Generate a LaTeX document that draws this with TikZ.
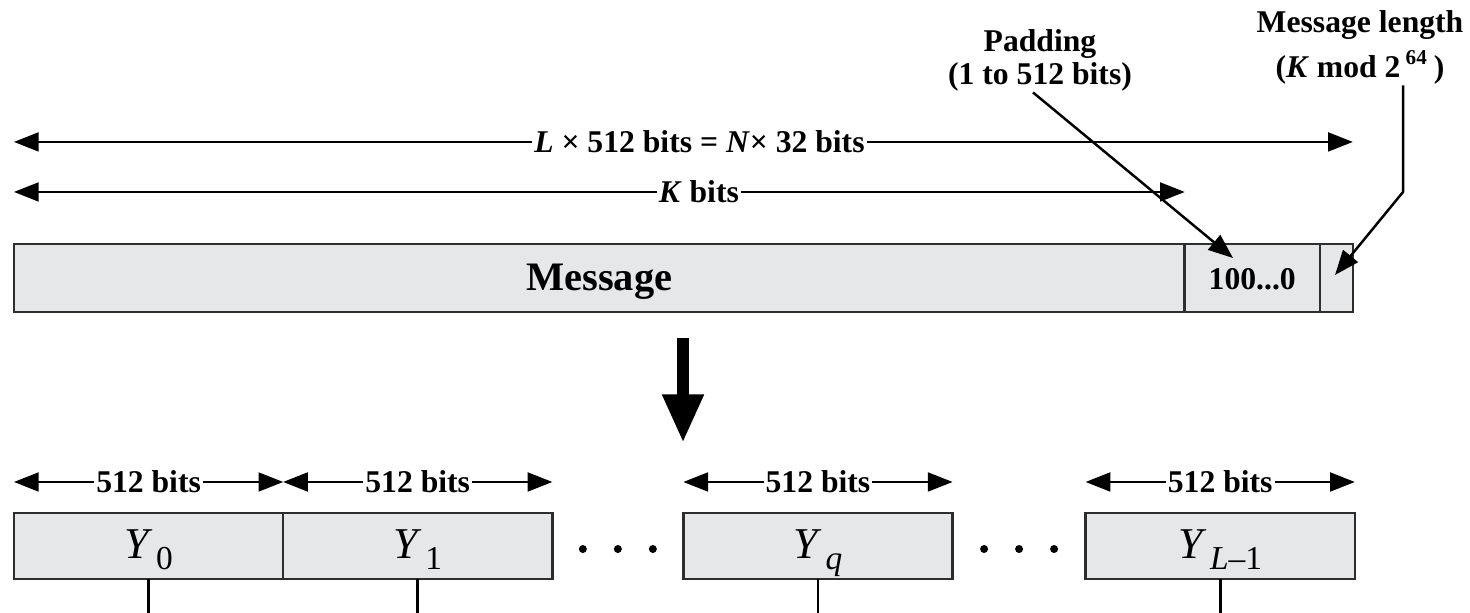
\documentclass[tikz,border=0pt]{standalone}
\usepackage{fontspec}
\setmainfont{Liberation Serif}
\usepackage{tikz}
\usetikzlibrary{positioning,calc,arrows.meta}
\definecolor{blockGray}{RGB}{230,231,233}
\definecolor{edgeGray}{RGB}{45,45,45}
\newcommand{\blocklabel}[1]{\textit{Y}\kern1pt\raisebox{-0.25em}{\fontsize{9.5}{9.5}\selectfont #1}}

\begin{document}
\begin{tikzpicture}[x=0.01cm,y=-0.01cm,
        >={Triangle[length=7pt,width=5.4pt]},
        block/.style={draw=edgeGray,fill=blockGray,line width=0.7pt,outer sep=0pt,inner sep=0pt,
                      minimum width=2.69cm,minimum height=0.66cm,text height=0.3cm,text depth=0.06cm,
                      font=\fontsize{12.5}{14}\selectfont},
        dimline/.style={<->,line width=0.5pt},
        dimlabel/.style={fill=white,inner sep=0.6pt,font=\fontsize{9}{11}\selectfont\bfseries},
        callout/.style={->,line width=0.7pt},
        toplabel/.style={anchor=base,inner sep=0pt,font=\fontsize{9}{10}\selectfont\bfseries}
    ]
        \useasboundingbox (0,0) rectangle (1470,613);

        \node[block,anchor=north west,minimum width=11.70cm,minimum height=0.68cm,
              text height=0.27cm,text depth=0.03cm,
              font=\fontsize{11.5}{13}\selectfont\bfseries] (msg) at (14,244) {Message};
        \node[block,right=0pt of msg,minimum width=1.35cm,minimum height=0.68cm,
              text height=0.22cm,text depth=0cm,
              font=\fontsize{9}{10}\selectfont\bfseries] (pad) {100...0};
        \node[block,right=0pt of pad,minimum width=0.33cm,minimum height=0.68cm] (len) {};

        \draw[dimline] ([yshift=1.02cm]msg.north west) --
            node[dimlabel,pos=0.512] {\textit{L} × 512 bits = \textit{N}× 32 bits} ([yshift=1.02cm]len.north east);
        \draw[dimline] ([yshift=0.52cm]msg.north west) --
            node[dimlabel,pos=0.585] {\textit{K} bits} ([yshift=0.52cm]msg.north east);

        \node[toplabel] (padTitle) at (1040,52) {Padding};
        \node[toplabel] (padRange) at (1040,85) {(1 to 512 bits)};
        \node[toplabel] (lenTitle) at (1360,33) {Message length};
        \node[toplabel] (lenRange) at (1360,78) {(\textit{K} mod 2\,\textsuperscript{64}\,)};

        \coordinate (padTip) at (1233,258);
        \coordinate (lenBend) at (1403,192);
        \coordinate (lenTip) at (1335,275);
        \draw[callout] ([xshift=-0.07cm]padRange.south) -- (padTip);
        \draw[callout] ([xshift=0.43cm]lenRange.south) -- (lenBend) -- (lenTip);

        \node[block,anchor=north west] (y0) at (14,513) {\blocklabel{0}};
        \node[block,right=0pt of y0] (y1) {\blocklabel{1}};
        \node[block,right=1.31cm of y1] (yq) {\blocklabel{\textit{q}}};
        \node[block,right=1.33cm of yq] (yL) {\blocklabel{\textit{L}–1}};

        \coordinate (splitTop) at (683,338);
        \coordinate (splitTip) at (683,443);
        \draw[line width=3.6pt,-{Triangle[length=13.8pt,width=10.9pt]}] (splitTop) -- (splitTip);

        \foreach \b in {y0,y1,yq,yL}{
            \draw[dimline] ([yshift=0.31cm]\b.north west) --
                node[dimlabel] {512 bits} ([yshift=0.31cm]\b.north east);
            \draw[line width=0.8pt] (\b.south) -- ++(0,34);
        }

        \foreach \a/\c in {y1/yq,yq/yL}
            \foreach \dx in {-35,0,35}
                \fill ($(\a.east)!0.5!(\c.west)$) ++(\dx,3) circle[radius=4];
    \end{tikzpicture}
\end{document}
